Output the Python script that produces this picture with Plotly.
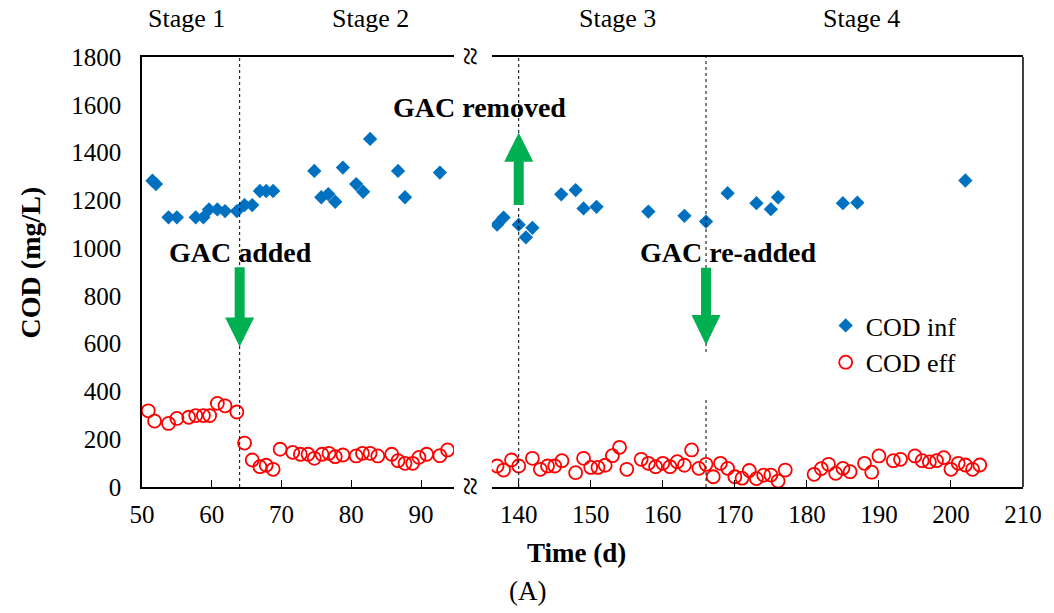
import plotly.graph_objects as go

# ---------------- data ----------------
inf_days_s12 = [51.5, 52.0, 53.8, 55.0, 57.7, 58.8, 59.6, 60.8, 61.9, 63.6, 64.7, 65.8, 66.9,
                67.8, 68.8, 74.7, 75.7, 76.7, 77.7, 78.8, 80.7, 81.7, 82.7, 86.7, 87.7, 92.7]
inf_cod_s12 = [1282, 1268, 1129, 1129, 1129, 1129, 1162, 1162, 1155, 1155, 1180, 1180, 1239,
               1239, 1239, 1323, 1213, 1226, 1194, 1337, 1268, 1236, 1457, 1323, 1213, 1316]

inf_days_s34 = [137, 137.9, 140, 141, 141.9, 145.9, 147.9, 149, 150.8, 158, 163, 166, 169,
                173, 175, 176, 185, 187, 202]
inf_cod_s34 = [1098, 1128, 1098, 1045, 1085, 1225, 1243, 1166, 1173, 1153, 1135, 1111, 1230,
               1188, 1163, 1213, 1188, 1190, 1283]

eff_days_s12 = [50.9, 51.8, 53.8, 55, 56.7, 57.7, 58.8, 59.7, 60.8, 61.9, 63.6, 64.7, 65.8,
                66.9, 67.8, 68.8, 69.8, 71.6, 72.7, 73.8, 74.7, 75.8, 76.8, 77.7, 78.8, 80.7,
                81.6, 82.7, 83.8, 85.8, 86.7, 87.7, 88.8, 89.7, 90.8, 92.7, 93.8]
eff_cod_s12 = [319, 276, 266, 287, 292, 299, 299, 299, 350, 340, 314, 184, 113,
               85, 91, 74, 158, 145, 137, 137, 120, 137, 141, 127, 134, 130,
               141, 141, 130, 137, 110, 99, 99, 124, 137, 131, 155]

eff_days_s34 = [137, 137.9, 139, 140, 141.9, 143, 144, 145, 146, 147.9, 149, 150, 151, 152,
                153, 154, 155, 157, 158, 159, 160, 161, 162, 163, 164, 165, 166, 167, 168,
                169, 170, 171, 172, 173, 174, 175, 176, 177, 181, 182, 183, 184, 185, 186,
                188, 189, 190, 192, 193, 195, 196, 197, 198, 199, 200, 201, 202, 203, 204]
eff_cod_s34 = [88, 71, 113, 88, 120, 74, 88, 88, 110, 60, 120, 82, 82, 91,
               131, 166, 74, 116, 99, 85, 99, 85, 106, 91, 155, 78, 95, 43, 99,
               78, 43, 37, 69, 35, 50, 50, 25, 71, 53, 77, 95, 57, 78, 64,
               99, 62, 130, 110, 116, 130, 110, 105, 110, 123, 74, 99, 92, 74, 92]

y_ticks = [0, 200, 400, 600, 800, 1000, 1200, 1400, 1600, 1800]
x_ticks_left = [50, 60, 70, 80, 90]
x_ticks_right = [140, 150, 160, 170, 180, 190, 200, 210]
stage_labels = ["Stage 1", "Stage 2", "Stage 3", "Stage 4"]

# ---------------- style ----------------
FONT = "Liberation Serif, Times New Roman, serif"
BLUE = "#0070C0"
RED = "#FF0000"
GREEN = "#00B050"
W, H = 1054, 613
ML, MR, MT, MB = 142, 28, 57, 126
PW, PH = W - ML - MR, H - MT - MB


def px_x(p):
    return (p - ML) / PW


def px_y(p):
    return (H - MB - p) / PH


fig = go.Figure()
inf_marker = dict(symbol="diamond", size=11, color=BLUE)
eff_marker = dict(symbol="circle-open", size=13, color=RED, line=dict(width=1.8, color=RED))

fig.add_trace(go.Scatter(x=inf_days_s12, y=inf_cod_s12, mode="markers", name="COD inf",
                         marker=inf_marker, xaxis="x", yaxis="y", legendgroup="inf"))
fig.add_trace(go.Scatter(x=eff_days_s12, y=eff_cod_s12, mode="markers", name="COD eff",
                         marker=eff_marker, xaxis="x", yaxis="y", legendgroup="eff"))
fig.add_trace(go.Scatter(x=inf_days_s34, y=inf_cod_s34, mode="markers", name="COD inf",
                         marker=inf_marker, xaxis="x2", yaxis="y", legendgroup="inf",
                         showlegend=False))
fig.add_trace(go.Scatter(x=eff_days_s34, y=eff_cod_s34, mode="markers", name="COD eff",
                         marker=eff_marker, xaxis="x2", yaxis="y", legendgroup="eff",
                         showlegend=False))

TICKSIZE = 25
axis_common = dict(showline=True, linecolor="black", linewidth=1.5, mirror=True,
                   ticks="inside", ticklen=7, tickcolor="black", tickwidth=1,
                   showgrid=False, zeroline=False, ticklabelstandoff=4,
                   tickfont=dict(family=FONT, size=TICKSIZE, color="black"))

left_end = px_x(455)
right_start = px_x(493)
fig.update_layout(
    width=W, height=H,
    margin=dict(l=ML, r=MR, t=MT, b=MB),
    paper_bgcolor="white", plot_bgcolor="white",
    xaxis=dict(domain=[0, left_end], range=[50, 50 + 313 / 7.0], tickvals=x_ticks_left,
               anchor="y", **axis_common),
    xaxis2=dict(domain=[right_start, 1], range=[140 - 27 / 7.228, 210], tickvals=x_ticks_right,
                anchor="y", **axis_common),
    yaxis=dict(range=[0, 1800], tickvals=y_ticks, showline=True, linecolor="black",
               linewidth=1.5, ticks="", showgrid=False, zeroline=False, anchor="x",
               ticklabelstandoff=14,
               tickfont=dict(family=FONT, size=TICKSIZE, color="black")),
    showlegend=True,
    legend=dict(x=px_x(828), y=px_y(302), xanchor="left", yanchor="top",
                bgcolor="rgba(0,0,0,0)", font=dict(family=FONT, size=26, color="black"),
                itemsizing="trace", tracegroupgap=0),
    font=dict(family=FONT, color="black"),
)

shapes = []
# right border
shapes.append(dict(type="line", xref="paper", yref="paper", x0=1, x1=1, y0=0, y1=1,
                   line=dict(color="#404040", width=2)))
# dashed event lines
dash = dict(color="black", width=1, dash="3px,3px")
shapes.append(dict(type="line", xref="x", yref="y", x0=64, x1=64, y0=0, y1=1800, line=dash))
shapes.append(dict(type="line", xref="x2", yref="y", x0=140, x1=140, y0=0, y1=1800, line=dash))
shapes.append(dict(type="line", xref="x2", yref="y", x0=166, x1=166, y0=565, y1=1800, line=dash))
shapes.append(dict(type="line", xref="x2", yref="y", x0=166, x1=166, y0=0, y1=372, line=dash))


def arrow(xref, xday, y_tail, y_neck, y_tip):
    path = (f"M -5,{y_tail} L 5,{y_tail} L 5,{y_neck} L 14.5,{y_neck} L 0,{y_tip} "
            f"L -14.5,{y_neck} L -5,{y_neck} Z")
    return dict(type="path", xref=xref, yref="y", xsizemode="pixel", xanchor=xday,
                path=path, fillcolor=GREEN, line=dict(width=0), layer="above")


shapes.append(arrow("x", 64, 920, 710, 587))
shapes.append(arrow("x2", 166, 918, 720, 594))
shapes.append(arrow("x2", 140, 1180, 1362, 1483))
fig.update_layout(shapes=shapes)

ann = []
bold = dict(family=FONT, size=28, color="black")
ann.append(dict(text="<b>GAC added</b>", x=px_x(241), y=px_y(252), xref="paper", yref="paper",
                showarrow=False, font=bold, xanchor="center", yanchor="middle"))
ann.append(dict(text="<b>GAC re-added</b>", x=px_x(730), y=px_y(253), xref="paper", yref="paper",
                showarrow=False, font=bold, xanchor="center", yanchor="middle"))
ann.append(dict(text="<b>GAC removed</b>", x=px_x(481), y=px_y(107), xref="paper", yref="paper",
                showarrow=False, font=bold, xanchor="center", yanchor="middle"))
for lab, cx in zip(stage_labels, [187, 371, 619, 864]):
    ann.append(dict(text=lab, x=px_x(cx), y=px_y(19), xref="paper", yref="paper",
                    showarrow=False, font=dict(family=FONT, size=26, color="black"),
                    xanchor="center", yanchor="middle"))
# axis break marks
for py in [57, 487]:
    ann.append(dict(text="≈", x=px_x(472), y=px_y(py), xref="paper", yref="paper",
                    showarrow=False, textangle=90,
                    font=dict(family=FONT, size=34, color="black"),
                    xanchor="center", yanchor="middle"))
ann.append(dict(text="<b>COD (mg/L)</b>", x=px_x(30), y=px_y(262), xref="paper", yref="paper",
                showarrow=False, textangle=-90, font=dict(family=FONT, size=28, color="black"),
                xanchor="center", yanchor="middle"))
ann.append(dict(text="<b>Time (d)</b>", x=px_x(578), y=px_y(553), xref="paper", yref="paper",
                showarrow=False, font=dict(family=FONT, size=27, color="black"),
                xanchor="center", yanchor="middle"))
ann.append(dict(text="(A)", x=px_x(529), y=px_y(591), xref="paper", yref="paper",
                showarrow=False, font=dict(family=FONT, size=27, color="black"),
                xanchor="center", yanchor="middle"))
fig.update_layout(annotations=ann)

fig.write_html("out.html")
